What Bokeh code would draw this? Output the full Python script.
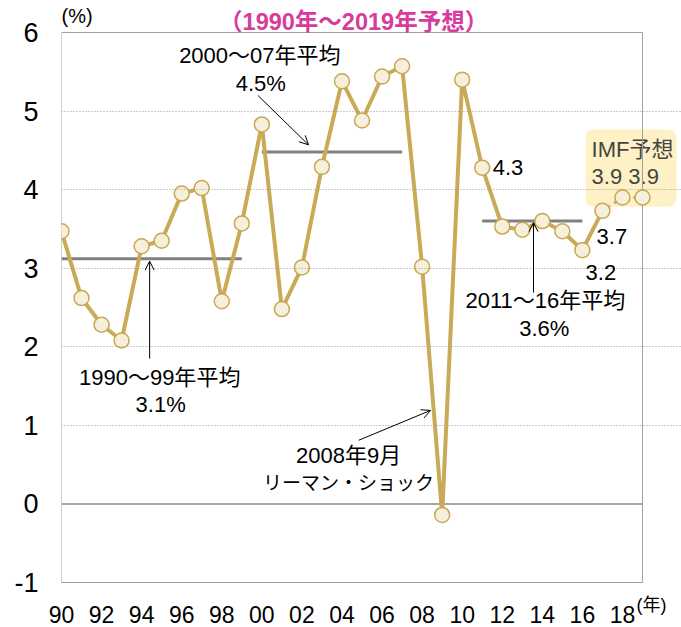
from bokeh.plotting import figure
from bokeh.models import Range1d, FixedTicker, Label, Arrow, OpenHead
from bokeh.embed import file_html
from bokeh.resources import INLINE

# ---- data ----
years = list(range(1990, 2020))
growth = [3.47, 2.62, 2.28, 2.08, 3.28, 3.35, 3.95, 4.02, 2.58, 3.57,
          4.83, 2.48, 3.01, 4.29, 5.38, 4.88, 5.44, 5.57, 3.02, -0.14,
          5.40, 4.28, 3.53, 3.49, 3.60, 3.47, 3.23, 3.73, 3.90, 3.90]
actual_years = years[:28]          # 1990-2017
actual_vals = growth[:28]
forecast_years = years[27:]        # 2017-2019 (dotted)
forecast_vals = growth[27:]

avg_start = [1990, 2000, 2011]
avg_end = [1999, 2007, 2016]
avg_val = [3.12, 4.48, 3.60]

x_ticks = list(range(1990, 2019, 2))
x_tick_labels = {y: f"{y % 100:02d}" for y in x_ticks}
y_ticks = [-1, 0, 1, 2, 3, 4, 5, 6]
y_tick_labels = {-1: "-1"}

FONT = "Liberation Sans, Noto Sans CJK JP"
GOLD = "#c9ab57"

W, H = 681, 627
LEFT, BOTTOM_BORDER = 61, 6
px_per_year = 581 / 29.0
px_per_unit = 550 / 7.0
frame_bottom = H - BOTTOM_BORDER
x_end = 1990 + (W - LEFT) / px_per_year
y_top = 6 + 32 / px_per_unit
y_bot = -1 - (frame_bottom - 582) / px_per_unit

p = figure(width=W, height=H, output_backend="svg", toolbar_location=None,
           x_range=Range1d(1990, x_end), y_range=Range1d(y_bot, y_top),
           min_border_left=LEFT, min_border_right=0, min_border_top=0,
           min_border_bottom=BOTTOM_BORDER)
p.background_fill_color = "white"
p.border_fill_color = "white"
p.outline_line_color = None

p.xgrid.visible = False
p.ygrid.ticker = FixedTicker(ticks=[1, 2, 3, 4, 5])
p.ygrid.grid_line_color = "#9a9a9a"
p.ygrid.grid_line_dash = "1 2"
p.ygrid.grid_line_width = 1
p.ygrid.bounds = (years[0], years[-1])
p.ygrid.level = "glyph"

for ax in (p.xaxis[0], p.yaxis[0]):
    ax.axis_line_color = None
    ax.major_tick_line_color = None
    ax.minor_tick_line_color = None
    ax.major_label_text_font = FONT
    ax.major_label_text_color = "black"

p.xaxis.ticker = FixedTicker(ticks=x_ticks)
p.xaxis.major_label_overrides = x_tick_labels
p.xaxis.major_label_text_font_size = "23px"
p.xaxis.major_label_standoff = -22

p.yaxis.ticker = FixedTicker(ticks=y_ticks)
p.yaxis.major_label_overrides = y_tick_labels
p.yaxis.major_label_text_font_size = "27px"
p.yaxis.major_label_standoff = 17

# plot box and zero line
p.quad(left=[years[0]], right=[years[-1]], bottom=[y_ticks[0]], top=[y_ticks[-1]],
       fill_color=None, line_color="#a0a0a0", line_width=1)
p.segment(x0=[years[0]], y0=[0], x1=[years[-1]], y1=[0], line_color="#888888", line_width=1.5)

# IMF forecast box (under the markers)
p.add_layout(Label(x=2016.16, y=4.766, text="IMF予想\n3.9 3.9", text_font=FONT,
                   text_font_size="22px", text_align="left", text_baseline="top",
                   text_line_height=1.05,
                   background_fill_color="#fdf1c5",
                   padding=dict(left=6, right=3, top=8, bottom=18), border_radius=8,
                   level="underlay"))

# averages
p.segment(x0=avg_start, y0=avg_val, x1=avg_end, y1=avg_val, line_color="#808080", line_width=3)

# series
p.line(actual_years, actual_vals, line_color=GOLD, line_width=4)
p.line(forecast_years, forecast_vals, line_color=GOLD, line_width=3, line_dash="2 5")
p.scatter(years, growth, size=15, fill_color="#f6efdc", line_color="#c8a850", line_width=1.5)

def lab(x, y, text, size="22px", align="center", baseline="middle", color="black", style="normal"):
    p.add_layout(Label(x=x, y=y, text=text, text_font=FONT, text_font_size=size,
                       text_align=align, text_baseline=baseline, text_color=color,
                       text_font_style=style))

def arrow(x0, y0, x1, y1):
    p.add_layout(Arrow(end=OpenHead(size=9, line_width=1, line_color="black"),
                       x_start=x0, y_start=y0, x_end=x1, y_end=y1,
                       line_width=1, line_color="black"))

# title & units
lab(2004.58, 6.14, "（1990年～2019年予想）", size="23.5px", color="#d63c9c", style="bold")
lab(1990.0, 6.204, "(%)", size="20px", align="left")
lab(2018.7, -1.29, "(年)", size="18px", align="left")

# annotations
lab(1999.9, 5.71, "2000～07年平均")
lab(1999.95, 5.35, "4.5%")
arrow(1999.8, 5.20, 2002.33, 4.57)

lab(1994.9, 1.61, "1990～99年平均")
lab(1994.95, 1.26, "3.1%")
arrow(1994.4, 1.85, 1994.4, 3.09)

lab(2014.15, 2.59, "2011～16年平均")
lab(2014.1, 2.23, "3.6%")
arrow(2013.56, 2.69, 2013.56, 3.58)

lab(2004.33, 0.62, "2008年9月")
lab(2004.33, 0.26, "リーマン・ショック", size="19px")
arrow(2004.83, 0.81, 2008.42, 1.19)

lab(2011.52, 4.28, "4.3", align="left")
lab(2016.71, 3.40, "3.7", align="left")
lab(2016.16, 2.95, "3.2", align="left")

open("out.html", "w").write(file_html(p, INLINE))
